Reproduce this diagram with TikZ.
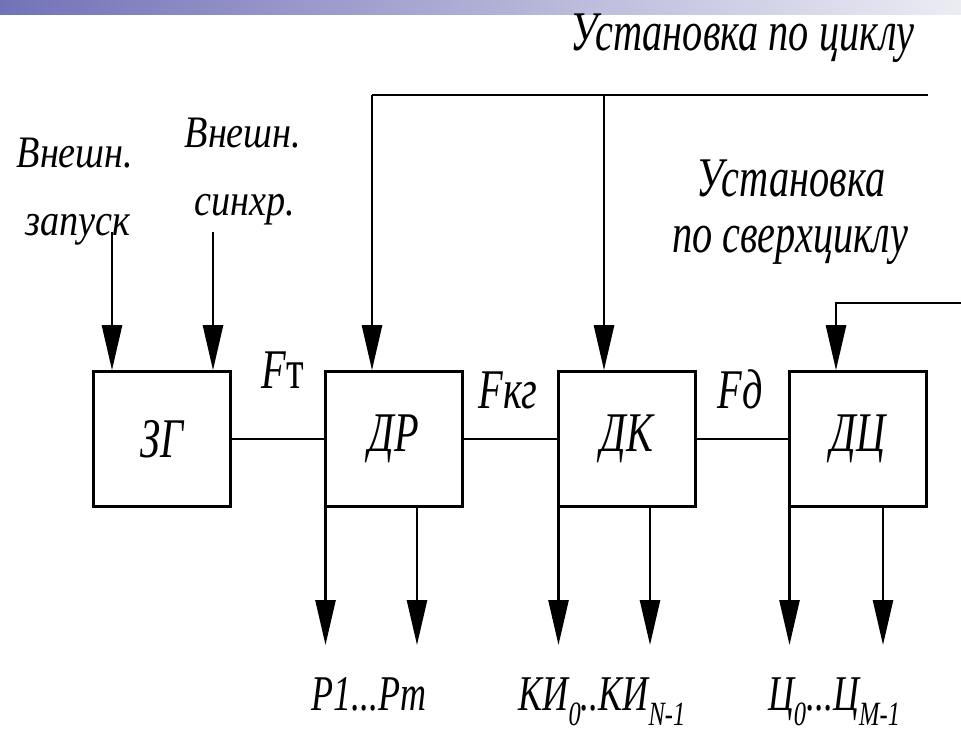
\documentclass[tikz,border=0pt]{standalone}
\usepackage{fontspec}
\setmainfont{Liberation Serif}
\newfontfamily\bigf[FakeStretch=0.72, ItalicFont={Liberation Serif Italic}, ItalicFeatures={FakeStretch=0.72}]{Liberation Serif}
\newfontfamily\smf[FakeStretch=0.85, ItalicFont={Liberation Serif Italic}, ItalicFeatures={FakeStretch=0.85}]{Liberation Serif}
\usetikzlibrary{arrows.meta}
\newcommand\BigF{\bigf\itshape\fontsize{56}{60}\selectfont}
\newcommand\BotF{\bigf\itshape\fontsize{50}{54}\selectfont}
\newcommand\SmF{\smf\itshape\fontsize{45}{50}\selectfont}
\newcommand\lowsub[1]{\raisebox{-15pt}{\fontsize{34}{40}\selectfont #1}}
\definecolor{barL}{RGB}{114,114,184}
\definecolor{barR}{RGB}{236,236,244}
\tikzset{
  blk/.style={draw, line width=2.6pt, minimum width=137pt, minimum height=135pt, inner sep=0pt, font=\BigF},
  ln/.style={line width=2.6pt},
  arr/.style={ln, -{Triangle[length=45pt,width=20pt]}},
  lab/.style={inner sep=0pt, anchor=base},
}
\begin{document}
\begin{tikzpicture}[x=1pt,y=-1pt]
\useasboundingbox (0,0) rectangle (961,732);
\shade[left color=barL, right color=barR] (0,0) rectangle (961,14);

\node[blk] (zg) at (162,439) {ЗГ};
\node[blk] (dr) at (394,439) {ДР};
\node[blk] (dk) at (627,439) {ДК};
\node[blk] (dc) at (858,439) {ДЦ};

\draw[ln] (zg) -- (dr);
\draw[ln] (dr) -- (dk);
\draw[ln] (dk) -- (dc);

\coordinate (ez) at (112,232);
\coordinate (es) at (213,232);
\draw[arr] (ez) -- (ez |- zg.north);
\draw[arr] (es) -- (es |- zg.north);

\coordinate (t1) at (372,95);
\coordinate (t2) at (928,95);
\coordinate (t3) at (604,95);
\draw[ln] (t1) -- (t2);
\draw[arr] (t1) -- (t1 |- dr.north);
\draw[arr] (t3) -- (t3 |- dk.north);

\coordinate (s1) at (961,303);
\coordinate (s2) at (836,303);
\draw[arr] (s1) -- (s2) -- (s2 |- dc.north);

\coordinate (b1) at (325.5,645);
\coordinate (b2) at (417,645);
\coordinate (b3) at (558.5,645);
\coordinate (b4) at (650,645);
\coordinate (b5) at (789.5,645);
\coordinate (b6) at (883,645);
\draw[arr] (b1 |- dr.south) -- (b1);
\draw[arr] (b2 |- dr.south) -- (b2);
\draw[arr] (b3 |- dk.south) -- (b3);
\draw[arr] (b4 |- dk.south) -- (b4);
\draw[arr] (b5 |- dc.south) -- (b5);
\draw[arr] (b6 |- dc.south) -- (b6);

\node[lab,font=\BigF] (u1) at (742,50) {Установка по циклу};
\node[lab,font=\BigF] (u2) at (791,196) {Установка};
\node[lab,font=\BigF] (u3) at (790,252) {по сверхциклу};
\node[lab,font=\SmF] (v1) at (75,167) {Внешн.};
\node[lab,font=\SmF] (v2) at (78,235) {запуск};
\node[lab,font=\SmF] (v3) at (243,147) {Внешн.};
\node[lab,font=\SmF] (v4) at (245,215) {синхр.};

\node[lab,font=\BigF] (ft) at (283,388) {F\textup{т}};
\node[lab,font=\BigF] (fkg) at (508,408) {Fкг};
\node[lab,font=\BigF] (fd) at (740,408) {Fд};

\node[lab,font=\BotF] (pl) at (369,710) {P1...Pm};
\node[lab,font=\BotF] (kl) at (602,710) {КИ\lowsub{0}..КИ\lowsub{N-1}};
\node[lab,font=\BotF] (cl) at (834,710) {Ц\lowsub{0}...Ц\lowsub{M-1}};
\end{tikzpicture}
\end{document}
